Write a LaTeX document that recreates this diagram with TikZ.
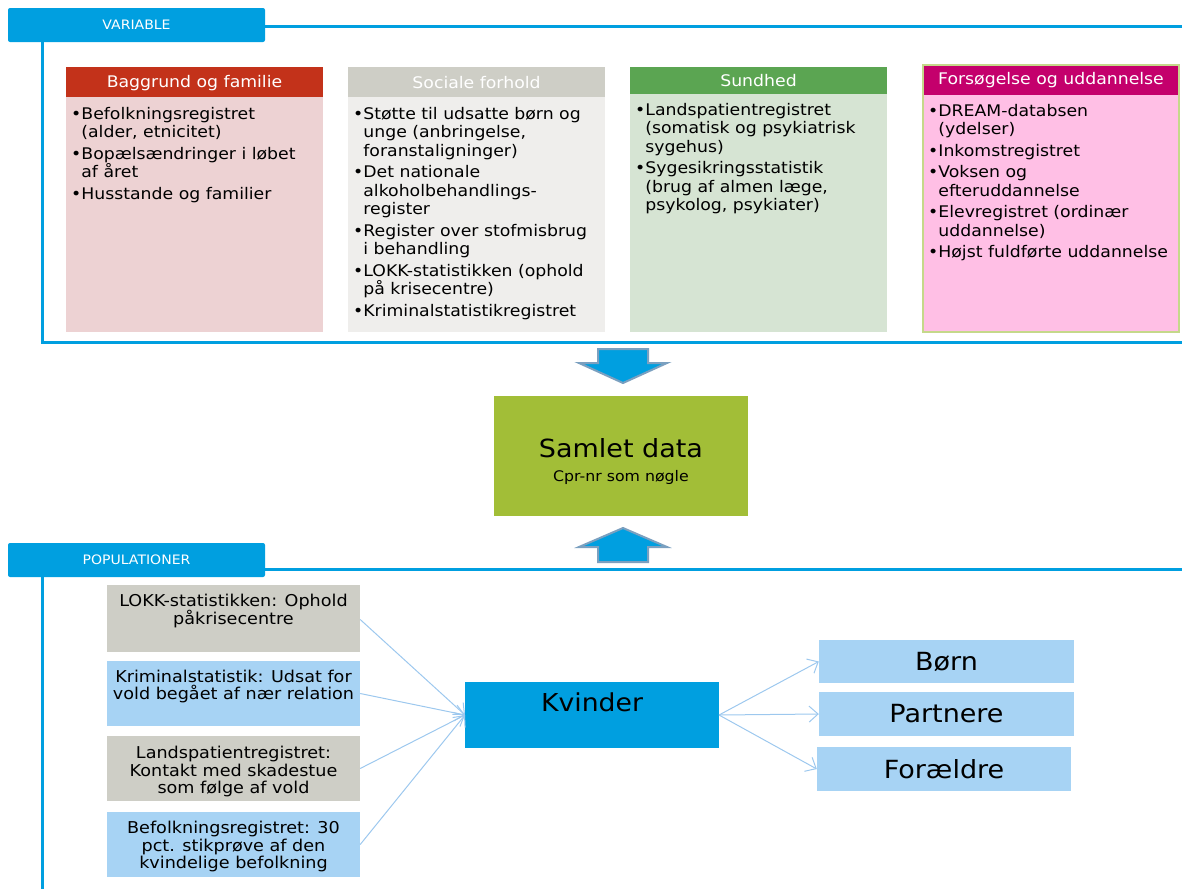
\documentclass[tikz,border=0pt]{standalone}
\usepackage{fontspec}
\setmainfont[FakeStretch=1.08]{DejaVu Sans}
\usetikzlibrary{arrows.meta}
\definecolor{tabblue}{RGB}{0,159,224}
\definecolor{hred}{RGB}{195,50,26}
\definecolor{bred}{RGB}{237,210,211}
\definecolor{hgray}{RGB}{206,206,198}
\definecolor{bgray}{RGB}{239,238,236}
\definecolor{hgreen}{RGB}{91,165,82}
\definecolor{bgreen}{RGB}{214,228,211}
\definecolor{hmag}{RGB}{196,0,108}
\definecolor{bpink}{RGB}{255,191,229}
\definecolor{pinkline}{RGB}{197,216,138}
\definecolor{samlet}{RGB}{162,190,55}
\definecolor{lblue}{RGB}{167,211,244}
\definecolor{arrline}{RGB}{157,200,238}
\definecolor{arrborder}{RGB}{123,160,192}
\tikzset{
  tabbox/.style={fill=tabblue, rounded corners=2pt, draw=none},
  tabtext/.style={text=white, font=\fontsize{13}{15}\selectfont},
  frameline/.style={draw=tabblue, line width=3pt},
  bodytext/.style={anchor=north west, align=left, inner sep=0pt, font=\fontsize{16}{18.5}\selectfont},
  headtext/.style={text=white, font=\fontsize{16}{18}\selectfont},
  popbox/.style={inner sep=0pt},
  poptext/.style={align=center, inner sep=0pt, font=\fontsize{16.3}{17.8}\selectfont},
  conn/.style={draw=arrline, line width=1pt, -{Straight Barb[length=9pt,width=16pt]}},
  bigtext/.style={font=\fontsize{24.7}{28}\selectfont},
  blockarrow/.style={fill=tabblue, draw=arrborder, line width=2pt, line join=miter},
}
\newcommand{\hb}{\hphantom{•}}
\begin{document}
\begin{tikzpicture}[x=1pt,y=-1pt]
\useasboundingbox (0,0) rectangle (1182,889);
% ---------- VARIABLE frame
\draw[frameline] (265,26) -- (1182,26);
\draw[frameline] (42,42) -- (42,342) -- (1182,342);
\fill[tabbox] (8,8) rectangle (265,42);
\node[tabtext] (vartab) at (136.5,25) {VARIABLE};

% ---------- Box 1
\fill[bred] (66,97) rectangle (323,332);
\fill[hred] (66,67) rectangle (323,97);
\node[headtext] (h1) at (194.5,83) {Baggrund og familie};
\node[bodytext] (b1) at (71,107) {•Befolkningsregistret\\\hb(alder, etnicitet)\\[3pt]•Bopælsændringer i løbet\\\hb af året\\[3pt]•Husstande og familier};

% ---------- Box 2
\fill[bgray] (348,97) rectangle (605,332);
\fill[hgray] (348,67) rectangle (605,97);
\node[headtext] (h2) at (476.5,83) {Sociale forhold};
\node[bodytext] (b2) at (353,107) {•Støtte til udsatte børn og\\\hb unge (anbringelse,\\\hb foranstaligninger)\\[3pt]•Det nationale\\\hb alkoholbehandlings-\\\hb register\\[3pt]•Register over stofmisbrug\\\hb i behandling\\[3pt]•LOKK-statistikken (ophold\\\hb på krisecentre)\\[3pt]•Kriminalstatistikregistret};

% ---------- Box 3
\fill[bgreen] (630,94) rectangle (887,332);
\fill[hgreen] (630,67) rectangle (887,94);
\node[headtext] (h3) at (758.5,81) {Sundhed};
\node[bodytext] (b3) at (635,103) {•Landspatientregistret\\\hb(somatisk og psykiatrisk\\\hb sygehus)\\[3pt]•Sygesikringsstatistik\\\hb(brug af almen læge,\\\hb psykolog, psykiater)};

% ---------- Box 4
\fill[bpink] (923,95) rectangle (1179,332);
\fill[hmag] (923,65) rectangle (1179,95);
\draw[pinkline, line width=1.2pt] (923,65) rectangle (1179,332);
\node[headtext] (h4) at (1051,80.5) {Forsøgelse og uddannelse};
\node[bodytext] (b4) at (928,104) {•DREAM-databsen\\\hb(ydelser)\\[3pt]•Inkomstregistret\\[3pt]•Voksen og\\\hb efteruddannelse\\[3pt]•Elevregistret (ordinær\\\hb uddannelse)\\[3pt]•Højst fuldførte uddannelse};

% ---------- Down arrow
\draw[blockarrow] (598,349) -- (648,349) -- (648,363) -- (667,363) -- (623,383) -- (579,363) -- (598,363) -- cycle;

% ---------- Samlet data
\node[fill=samlet, minimum width=254pt, minimum height=120pt, inner sep=0pt] (samlet) at (621,456) {};
\node[font=\fontsize{25}{30}\selectfont, inner sep=0pt] (samlett) at (621,448) {Samlet data};
\node[font=\fontsize{14.6}{16}\selectfont, inner sep=0pt] (cpr) at (621,477) {Cpr-nr som nøgle};

% ---------- Up arrow
\draw[blockarrow] (598,562) -- (648,562) -- (648,547) -- (667,547) -- (623,528) -- (579,547) -- (598,547) -- cycle;

% ---------- POPULATIONER frame
\draw[frameline] (265,569) -- (1182,569);
\draw[frameline] (42,577) -- (42,889);
\fill[tabbox] (8,543) rectangle (265,577);
\node[tabtext] (poptab) at (136.5,560) {POPULATIONER};

% ---------- Population boxes
\node[popbox, fill=hgray, minimum width=253pt, minimum height=67pt] (lokk) at (233.5,618.5) {};
\node[poptext] (lokkt) at (233.5,611) {LOKK-statistikken: Ophold\\påkrisecentre};
\node[popbox, fill=lblue, minimum width=253pt, minimum height=65pt] (krim) at (233.5,693.5) {};
\node[poptext] (krimt) at (233.5,686.5) {Kriminalstatistik: Udsat for\\vold begået af nær relation};
\node[popbox, fill=hgray, minimum width=253pt, minimum height=65pt] (lands) at (233.5,768.5) {};
\node[poptext] (landst) at (233.5,771.5) {Landspatientregistret:\\Kontakt med skadestue\\som følge af vold};
\node[popbox, fill=lblue, minimum width=253pt, minimum height=65pt] (befo) at (233.5,844.5) {};
\node[poptext] (befot) at (233.5,846.5) {Befolkningsregistret: 30\\pct. stikprøve af den\\kvindelige befolkning};

% ---------- Kvinder
\node[popbox, fill=tabblue, minimum width=254pt, minimum height=66pt] (kvinder) at (592,715) {};
\node[bigtext, inner sep=0pt] (kvindert) at (592,702) {Kvinder};

% ---------- Right boxes
\node[popbox, fill=lblue, minimum width=255pt, minimum height=43pt] (born) at (946.5,661.5) {\fontsize{25}{28}\selectfont Børn};
\node[popbox, fill=lblue, minimum width=255pt, minimum height=44pt] (partner) at (946.5,714) {\fontsize{25}{28}\selectfont Partnere};
\node[popbox, fill=lblue, minimum width=254pt, minimum height=44pt] (foraeldre) at (944,769) {\fontsize{25}{28}\selectfont Forældre};

% ---------- Connectors
\coordinate (kin) at (465,715);
\coordinate (kout) at (719,715);
\draw[conn] ([yshift=-1pt]lokk.east) -- (kin);
\draw[conn] (krim.east) -- (kin);
\draw[conn] (lands.east) -- (kin);
\draw[conn] (befo.east) -- (kin);
\draw[conn] (kout) -- (born.west);
\draw[conn] (kout) -- (partner.west);
\draw[conn] (kout) -- (foraeldre.west);
\end{tikzpicture}
\end{document}
